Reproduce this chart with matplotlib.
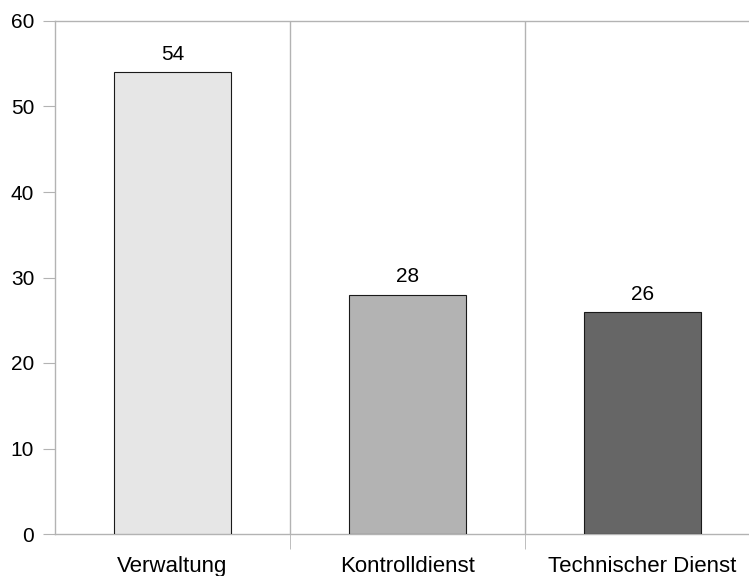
import matplotlib
matplotlib.use("Agg")
import matplotlib.pyplot as plt

# data
categories = ["Verwaltung", "Kontrolldienst", "Technischer Dienst"]
values = [54, 28, 26]
bar_colors = ["#e6e6e6", "#b3b3b3", "#666666"]
yticks = [0, 10, 20, 30, 40, 50, 60]

plt.rcParams['font.family'] = ['Liberation Sans', 'DejaVu Sans']

fig = plt.figure(figsize=(7.49, 5.76), dpi=100)
# axes runs a little past the right edge, like the original
ax = fig.add_axes([55/749, 1 - 534/576, 705/749, 513/576])

x = list(range(len(categories)))
bars = ax.bar(x, values, width=0.5, color=bar_colors, edgecolor="#1a1a1a", linewidth=0.8, zorder=3)
for xi, v in zip(x, values):
    ax.text(xi, v + 0.95, str(v), ha="center", va="bottom", fontsize=15)

ax.set_xlim(-0.5, 2.5)
ax.set_ylim(0, 60)
ax.set_yticks(yticks)
ax.set_xticks(x)
ax.set_xticklabels(categories)
ax.set_xticks([0.5, 1.5, 2.5], minor=True)

grid_col = "#b3b3b3"
ax.grid(True, axis="x", which="minor", color=grid_col, linewidth=1, zorder=0)
ax.grid(False, axis="y")
for s in ax.spines.values():
    s.set_color(grid_col)
    s.set_linewidth(1)

ax.tick_params(axis="y", which="major", length=9, color=grid_col, labelsize=15, pad=6)
ax.tick_params(axis="x", which="major", length=0, labelsize=16, pad=16)
ax.tick_params(axis="x", which="minor", length=11, color=grid_col)

fig.savefig("out.png", dpi=100)
